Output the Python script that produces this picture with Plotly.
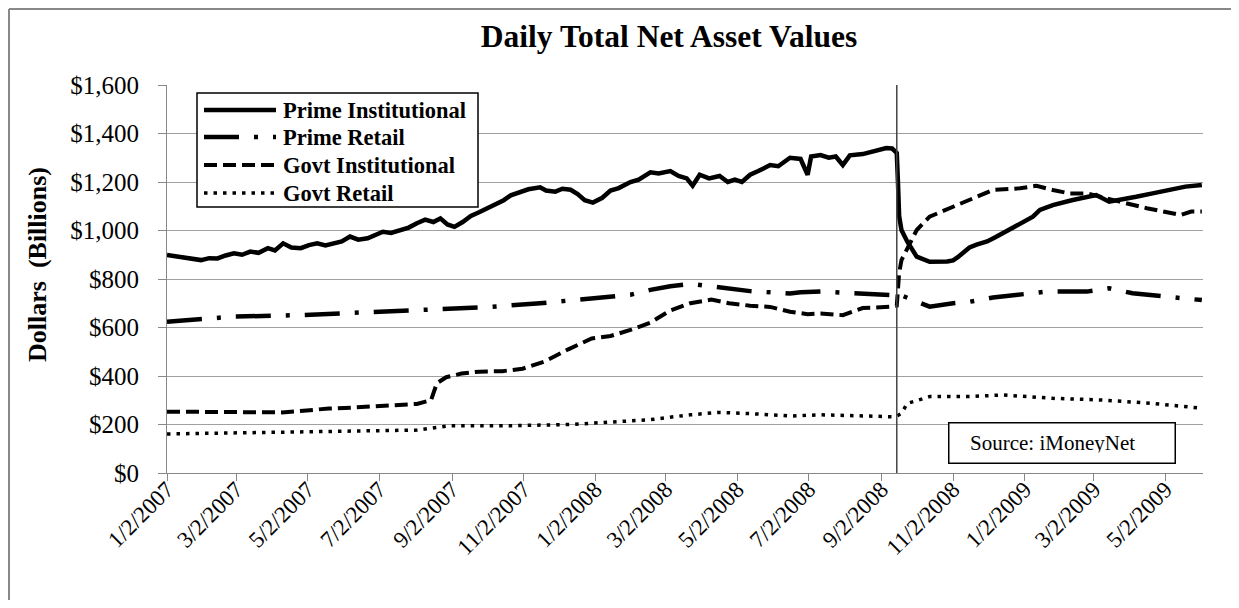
import plotly.graph_objects as go

# ---------------- data ----------------
prime_inst_dates = [
    "2007-01-02", "2007-01-09", "2007-01-16", "2007-01-23", "2007-01-31", "2007-02-07", "2007-02-14",
    "2007-02-21", "2007-02-28", "2007-03-07", "2007-03-14", "2007-03-21", "2007-03-29", "2007-04-04",
    "2007-04-11", "2007-04-18", "2007-04-26", "2007-05-03", "2007-05-10", "2007-05-17", "2007-05-24",
    "2007-05-31", "2007-06-07", "2007-06-14", "2007-06-22", "2007-06-28", "2007-07-05", "2007-07-12",
    "2007-07-20", "2007-07-27", "2007-08-03", "2007-08-10", "2007-08-17", "2007-08-23", "2007-08-29",
    "2007-09-04", "2007-09-11", "2007-09-18", "2007-09-25", "2007-10-02", "2007-10-09", "2007-10-16",
    "2007-10-22", "2007-10-30", "2007-11-06", "2007-11-16", "2007-11-21", "2007-11-29", "2007-12-05",
    "2007-12-12", "2007-12-18", "2007-12-24", "2007-12-31", "2008-01-08", "2008-01-15", "2008-01-22",
    "2008-02-01", "2008-02-08", "2008-02-18", "2008-02-25", "2008-03-06", "2008-03-13", "2008-03-20",
    "2008-03-25", "2008-03-31", "2008-04-08", "2008-04-17", "2008-04-24", "2008-04-30", "2008-05-06",
    "2008-05-13", "2008-05-20", "2008-05-30", "2008-06-06", "2008-06-16", "2008-06-25", "2008-07-01",
    "2008-07-04", "2008-07-12", "2008-07-19", "2008-07-25", "2008-07-31", "2008-08-06", "2008-08-17",
    "2008-08-25", "2008-09-01", "2008-09-06", "2008-09-11", "2008-09-15", "2008-09-16", "2008-09-17",
    "2008-09-19", "2008-09-24", "2008-10-02", "2008-10-13", "2008-10-28", "2008-11-02", "2008-11-06",
    "2008-11-10", "2008-11-16", "2008-11-22", "2008-12-01", "2008-12-08", "2008-12-18", "2008-12-29",
    "2009-01-09", "2009-01-15", "2009-01-26", "2009-02-12", "2009-02-24", "2009-03-04", "2009-03-15",
    "2009-03-24", "2009-04-07", "2009-04-21", "2009-05-05", "2009-05-19", "2009-06-02",
]
prime_inst_values = [
    899, 893, 890, 884, 878, 886, 885,
    897, 906, 900, 913, 908, 927, 918,
    947, 930, 927, 940, 947, 938, 947,
    955, 975, 962, 968, 980, 995, 990,
    1002, 1012, 1030, 1045, 1035, 1050, 1025,
    1015, 1035, 1060, 1075, 1090, 1110, 1125,
    1145, 1160, 1170, 1178, 1165, 1160, 1172,
    1168, 1150, 1125, 1115, 1135, 1165, 1175,
    1200, 1210, 1240, 1235, 1245, 1225, 1215,
    1185, 1230, 1215, 1225, 1200, 1210, 1200,
    1230, 1245, 1270, 1265, 1300, 1295, 1230,
    1305, 1311, 1300, 1305, 1270, 1310, 1315,
    1325, 1330, 1340, 1338, 1320, 1200, 1060,
    1002, 954, 892, 871, 872, 877, 890,
    905, 930, 942, 955, 972, 1000, 1030,
    1057, 1085, 1105, 1126, 1139, 1146, 1119,
    1126, 1139, 1153, 1167, 1181, 1188,
]

prime_retail_dates = [
    "2007-01-02", "2007-02-28", "2007-04-26", "2007-07-05", "2007-08-03", "2007-09-01", "2007-10-05",
    "2007-11-16", "2007-12-24", "2008-01-15", "2008-02-01", "2008-02-18", "2008-03-06", "2008-03-23",
    "2008-03-31", "2008-04-17", "2008-04-30", "2008-05-13", "2008-06-16", "2008-06-25", "2008-07-12",
    "2008-08-17", "2008-09-11", "2008-09-15", "2008-10-13", "2008-11-02", "2008-11-16", "2008-12-06",
    "2008-12-29", "2009-01-21", "2009-02-24", "2009-03-15", "2009-04-04", "2009-04-21", "2009-05-19",
    "2009-06-02",
]
prime_retail_values = [
    624, 645, 651, 665, 672, 680, 685,
    700, 715, 725, 735, 755, 770, 780,
    775, 765, 760, 750, 740, 745, 748,
    741, 734, 740, 686, 700, 706, 724,
    734, 748, 748, 762, 741, 734, 720,
    713,
]

govt_inst_dates = [
    "2007-01-02", "2007-01-20", "2007-02-10", "2007-02-28", "2007-03-20", "2007-04-10", "2007-05-01",
    "2007-05-20", "2007-06-10", "2007-06-25", "2007-07-15", "2007-08-03", "2007-08-15", "2007-08-20",
    "2007-08-28", "2007-09-10", "2007-09-25", "2007-10-15", "2007-11-01", "2007-11-20", "2007-12-10",
    "2007-12-30", "2008-01-15", "2008-02-01", "2008-02-18", "2008-03-06", "2008-03-23", "2008-04-10",
    "2008-04-25", "2008-05-13", "2008-05-30", "2008-06-16", "2008-07-01", "2008-07-12", "2008-07-31",
    "2008-08-17", "2008-09-11", "2008-09-15", "2008-09-17", "2008-09-19", "2008-10-02", "2008-10-13",
    "2008-11-02", "2008-11-16", "2008-12-06", "2008-12-29", "2009-01-12", "2009-01-26", "2009-02-09",
    "2009-02-24", "2009-03-09", "2009-03-24", "2009-04-16", "2009-05-03", "2009-05-15", "2009-05-24",
    "2009-06-02",
]
govt_inst_values = [
    253, 252, 250, 253, 248, 250, 258,
    266, 270, 275, 278, 285, 300, 370,
    395, 410, 418, 420, 430, 460, 510,
    555, 565, 590, 620, 670, 700, 715,
    700, 690, 685, 665, 655, 658, 651,
    680, 686, 690, 824, 878, 1002, 1057,
    1098, 1126, 1167, 1174, 1184, 1167, 1153,
    1153, 1139, 1119, 1092, 1078, 1064, 1078,
    1078,
]

govt_retail_dates = [
    "2007-01-02", "2007-03-29", "2007-06-07", "2007-08-03", "2007-08-20", "2007-09-01", "2007-10-22",
    "2007-12-12", "2008-01-15", "2008-02-18", "2008-03-23", "2008-04-17", "2008-05-13", "2008-06-16",
    "2008-07-12", "2008-08-17", "2008-09-11", "2008-09-15", "2008-09-19", "2008-09-24", "2008-10-13",
    "2008-11-16", "2008-12-14", "2009-01-26", "2009-03-09", "2009-04-21", "2009-06-02",
]
govt_retail_values = [
    161, 168, 172, 177, 188, 195, 195,
    200, 210, 220, 240, 250, 245, 235,
    240, 235, 232, 235, 246, 287, 315,
    315, 322, 308, 301, 287, 267,
]

series_names = ["Prime Institutional", "Prime Retail", "Govt Institutional", "Govt Retail"]

x_tick_dates = [
    "2007-01-02", "2007-03-02", "2007-05-02", "2007-07-02", "2007-09-02", "2007-11-02",
    "2008-01-02", "2008-03-02", "2008-05-02", "2008-07-02", "2008-09-02", "2008-11-02",
    "2009-01-02", "2009-03-02", "2009-05-02",
]
x_tick_labels = [
    "1/2/2007", "3/2/2007", "5/2/2007", "7/2/2007", "9/2/2007", "11/2/2007",
    "1/2/2008", "3/2/2008", "5/2/2008", "7/2/2008", "9/2/2008", "11/2/2008",
    "1/2/2009", "3/2/2009", "5/2/2009",
]
y_tick_values = [0, 200, 400, 600, 800, 1000, 1200, 1400, 1600]
y_tick_labels = ["$0", "$200", "$400", "$600", "$800", "$1,000", "$1,200", "$1,400", "$1,600"]

event_date = "2008-09-15"
x_range = ["2007-01-02", "2009-06-03"]
y_range = [0, 1600]

# ---------------- figure ----------------
SERIF = "Liberation Serif, Times New Roman, serif"
OFF = 8                      # page body margin: the figure starts at page pixel (8, 8)
W, H = 1239 - 2 * OFF, 608 - 2 * OFF   # fits in the window together with the body margins
# plot area in page pixels: x 167..1203, y 85..473
PL, PR, PT, PB = 167, 1203, 85, 473
L, T = PL - OFF, PT - OFF
R, B = W - (PR - OFF), H - (PB - OFF)
PW, PH = PR - PL, PB - PT


def px_x(px):   # page pixel -> paper x
    return (px - PL) / PW


def px_y(py):   # page pixel -> paper y
    return (PB - py) / PH


styles = [
    dict(color="black", width=4.5),
    dict(color="black", width=4.5, dash="35px,15px,4px,15px"),
    dict(color="black", width=4, dash="13px,6px"),
    dict(color="black", width=3.5, dash="3.5px,6px"),
]
series = [
    (prime_inst_dates, prime_inst_values),
    (prime_retail_dates, prime_retail_values),
    (govt_inst_dates, govt_inst_values),
    (govt_retail_dates, govt_retail_values),
]

fig = go.Figure()
for name, (xs, ys), st in zip(series_names, series, styles):
    fig.add_trace(go.Scatter(x=xs, y=ys, mode="lines", name=name, line=st,
                             showlegend=False))

# vertical event line
fig.add_shape(type="line", xref="x", yref="y", x0=event_date, x1=event_date,
              y0=y_range[0], y1=y_range[1], line=dict(color="#444", width=1.5))

# outer frame: top and left edges
fig.add_shape(type="line", xref="paper", yref="paper",
              x0=px_x(OFF + 1), x1=px_x(1245), y0=px_y(OFF + 1), y1=px_y(OFF + 1),
              line=dict(color="#888", width=2))
fig.add_shape(type="line", xref="paper", yref="paper",
              x0=px_x(OFF + 1), x1=px_x(OFF + 1), y0=px_y(OFF + 1), y1=px_y(620),
              line=dict(color="#888", width=2))

# legend (box, sample lines, labels)
LEG_L, LEG_R, LEG_T, LEG_B = 197, 478, 93, 207
row_y = [110, 137, 165, 193]
fig.add_shape(type="rect", xref="paper", yref="paper",
              x0=px_x(LEG_L), x1=px_x(LEG_R), y0=px_y(LEG_B), y1=px_y(LEG_T),
              line=dict(color="black", width=1.5), fillcolor="white")
for name, st, ry in zip(series_names, styles, row_y):
    fig.add_shape(type="line", xref="paper", yref="paper",
                  x0=px_x(204), x1=px_x(276), y0=px_y(ry), y1=px_y(ry), line=st)
    fig.add_annotation(text="<b>" + name + "</b>", xref="paper", yref="paper",
                       x=px_x(281), y=px_y(ry), xanchor="left", yanchor="middle",
                       showarrow=False, font=dict(size=22.5, family=SERIF, color="black"))

fig.update_layout(
    width=W, height=H,
    margin=dict(l=L, r=R, t=T, b=B, autoexpand=False),
    paper_bgcolor="white", plot_bgcolor="white",
    font=dict(family=SERIF, color="black"),
    title=dict(text="<b>Daily Total Net Asset Values</b>", x=px_x(669), xref="paper",
               xanchor="center", y=1 - (36 - OFF) / H, yref="container", yanchor="middle",
               font=dict(size=31.5, family=SERIF, color="black")),
    showlegend=False,
    xaxis=dict(type="date", range=x_range, tickvals=x_tick_dates, ticktext=x_tick_labels,
               tickangle=-45, showgrid=False, showline=True, linecolor="#888", linewidth=1,
               ticks="outside", ticklen=7, tickcolor="#888", zeroline=False,
               ticklabelstandoff=-14,
               tickfont=dict(size=23, family=SERIF, color="black")),
    yaxis=dict(range=y_range, tickvals=y_tick_values, ticktext=y_tick_labels,
               showgrid=True, gridcolor="#a0a0a0", gridwidth=1, showline=True,
               linecolor="#888", linewidth=1, ticks="outside", ticklen=8, tickcolor="#888",
               zeroline=False, ticklabelstandoff=14,
               tickfont=dict(size=25, family=SERIF, color="black")),
)

# y-axis title
fig.add_annotation(text="<b>Dollars  (Billions)</b>", xref="paper", yref="paper",
                   x=px_x(37), y=px_y(265), xanchor="center", yanchor="middle",
                   textangle=-90, showarrow=False,
                   font=dict(size=26, family=SERIF, color="black"))

# source box
fig.add_annotation(text="&nbsp;&nbsp;Source: iMoneyNet", xref="paper", yref="paper",
                   x=px_x(1061.5), y=px_y(442.5), xanchor="center", yanchor="middle",
                   width=205, height=19, align="left", showarrow=False,
                   bgcolor="white", bordercolor="black", borderwidth=1.5, borderpad=10,
                   font=dict(size=21, family=SERIF, color="black"))

fig.write_html("out.html")
